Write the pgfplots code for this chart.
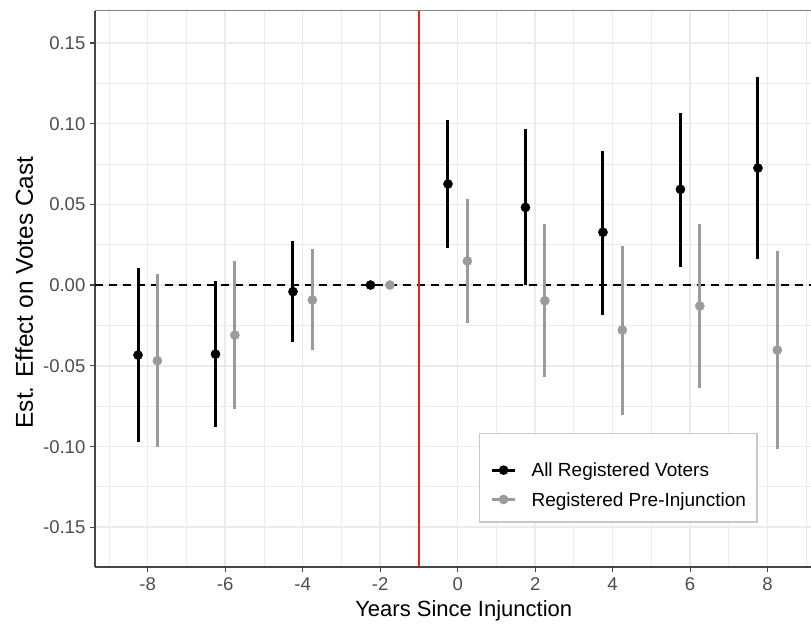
\documentclass[border=0pt]{standalone}
\usepackage{fontspec}
\setmainfont{Liberation Sans}
\usepackage{pgfplots}
\pgfplotsset{compat=1.18}
\usepackage{pgfplotstable}

\definecolor{gridgray}{RGB}{235,235,235}
\definecolor{estgray}{RGB}{155,155,155}
\definecolor{axisgray}{RGB}{70,70,70}
\definecolor{ticktext}{RGB}{77,77,77}
\definecolor{bordergray}{RGB}{130,130,130}
\definecolor{legframe}{RGB}{200,200,200}
\definecolor{vred}{RGB}{235,30,35}

% all registered voters (dodged left)
\pgfplotstableread{
x y lo hi
-8.25 -0.0434 -0.0971 0.0105
-6.25 -0.0428 -0.0882 0.0027
-4.25 -0.0041 -0.0355 0.0273
-2.25 0 0 0
-0.25 0.0626 0.0227 0.1022
1.75 0.0481 0.0 0.0967
3.75 0.0327 -0.0186 0.0832
5.75 0.0593 0.0110 0.1068
7.75 0.0725 0.0159 0.1290
}\allreg

% registered pre-injunction (dodged right)
\pgfplotstableread{
x y lo hi
-7.75 -0.0469 -0.1006 0.0068
-5.75 -0.0310 -0.0769 0.0149
-3.75 -0.0093 -0.0403 0.0221
-1.75 0 0 0
0.25 0.0149 -0.0238 0.0533
2.25 -0.0097 -0.0572 0.0378
4.25 -0.0279 -0.0806 0.0244
6.25 -0.0130 -0.0640 0.0378
8.25 -0.0403 -0.1017 0.0211
}\preinj

\begin{document}
\begin{tikzpicture}
\begin{axis}[
    at={(0,0)}, anchor=south west,
    scale only axis,
    width=716pt, height=556pt,
    xmin=-9.36, xmax=9.12,
    ymin=-0.1747, ymax=0.1698,
    xtick={-8,-6,-4,-2,0,2,4,6,8},
    xticklabels={-8,-6,-4,-2,0,2,4,6,8},
    ytick={-0.15,-0.10,-0.05,0,0.05,0.10,0.15},
    yticklabels={-0.15,-0.10,-0.05,0.00,0.05,0.10,0.15},
    minor xtick={-9,-7,-5,-3,-1,1,3,5,7,9},
    minor ytick={-0.175,-0.125,-0.075,-0.025,0.025,0.075,0.125},
    grid=both,
    major grid style={gridgray, line width=1.6pt},
    minor grid style={gridgray, line width=0.8pt},
    axis x line*=bottom, axis y line*=left,
    axis line style={-, axisgray, line width=1.3pt},
    tick align=outside,
    major tick length=4.5pt, minor tick length=0pt,
    tick style={axisgray, line width=1.2pt},
    tick label style={font=\fontsize{18.5}{20}\selectfont, text=ticktext,
        inner sep=0pt, text height=13.2pt, text depth=0pt},
    xticklabel style={yshift=-6pt},
    yticklabel style={xshift=-5pt},
    xlabel={Years Since Injunction},
    ylabel={Est. Effect on Votes Cast},
    label style={inner sep=0pt},
    xlabel style={font=\fontsize{22}{24}\selectfont, at={(axis description cs:0.515,-0.0894)}, anchor=base},
    ylabel style={font=\fontsize{24.4}{26}\selectfont, at={(axis description cs:-0.0866,0.4937)}, anchor=base},
    legend style={at={(axis description cs:0.5363,0.0797)}, anchor=south west,
        draw=legframe, line width=1.2pt, fill=white,
        inner xsep=11pt, inner ysep=8pt,
        font=\fontsize{19}{21}\selectfont,
        column sep=15pt,
        nodes={inner sep=0pt, minimum height=29.3pt, text height=13.6pt, text depth=0pt}},
    legend cell align={left},
]

% reference lines
\draw[black, line width=1.5pt, dash pattern=on 8pt off 6pt] (axis cs:-9.36,0) -- (axis cs:9.12,0);
\draw[vred, line width=1.6pt] (axis cs:-1,-0.1747) -- (axis cs:-1,0.1698);

% error bars
\addplot[forget plot, only marks, mark=none,
    error bars/.cd, y dir=both, y explicit, error mark=none,
    error bar style={black, line width=3pt}]
    table[x=x, y=y, y error plus expr=\thisrow{hi}-\thisrow{y}, y error minus expr=\thisrow{y}-\thisrow{lo}] {\allreg};
\addplot[forget plot, only marks, mark=none,
    error bars/.cd, y dir=both, y explicit, error mark=none,
    error bar style={estgray, line width=3pt}]
    table[x=x, y=y, y error plus expr=\thisrow{hi}-\thisrow{y}, y error minus expr=\thisrow{y}-\thisrow{lo}] {\preinj};

% point estimates
\addplot[forget plot, only marks, mark=*, mark size=4.6pt, black] table[x=x, y=y] {\allreg};
\addplot[forget plot, only marks, mark=*, mark size=4.6pt, estgray, mark options={draw=estgray, fill=estgray}] table[x=x, y=y] {\preinj};

% legend
\addlegendimage{empty legend}
\addlegendentry[minimum height=14pt]{}
\addlegendimage{legend image code/.code={
    \draw[black, line width=3pt] (0pt,0pt) -- (23pt,0pt);
    \fill[black] (11.5pt,0pt) circle (4.2pt);}}
\addlegendentry{All Registered Voters}
\addlegendimage{legend image code/.code={
    \draw[estgray, line width=3pt] (0pt,0pt) -- (23pt,0pt);
    \fill[estgray] (11.5pt,0pt) circle (4.2pt);}}
\addlegendentry{Registered Pre-Injunction}

% top border
\draw[bordergray, line width=1pt] (rel axis cs:0,1) -- (rel axis cs:1,1);
\end{axis}
\pgfresetboundingbox
\path (-95pt,-59pt) rectangle (716pt,567pt);
\end{tikzpicture}
\end{document}
